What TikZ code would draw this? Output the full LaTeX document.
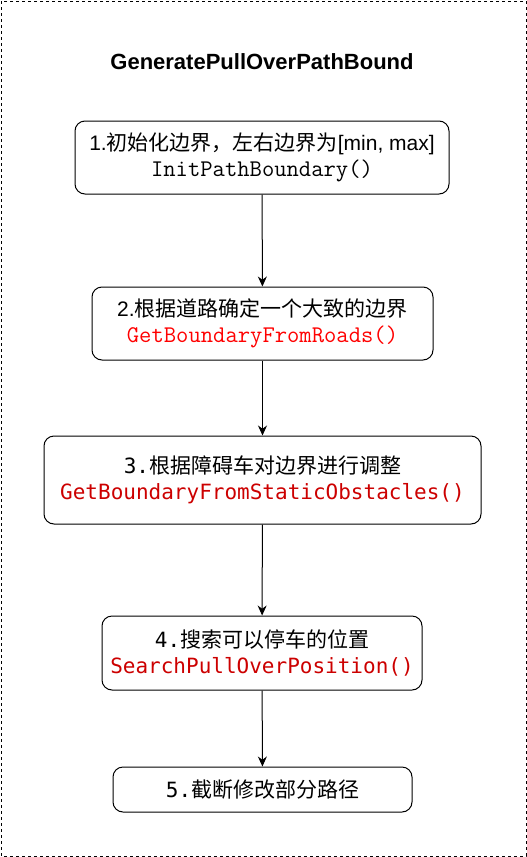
\documentclass[tikz,border=0pt]{standalone}
\usepackage{fontspec}
\setmainfont{Liberation Sans}
\setmonofont[Scale=1.14]{Latin Modern Mono}
\newfontfamily\zh{Noto Sans CJK SC}
\newfontfamily\menlo{DejaVu Sans Mono}
\usepackage{xcolor}
\definecolor{rojo}{RGB}{255,0,0}
\definecolor{rojoOscuro}{RGB}{204,0,0}
\usepackage{tikz}
\usetikzlibrary{arrows.meta,positioning}
\tikzstyle{edge}  =[-{Stealth[length=10pt,width=9pt]},
                    line width=1pt]
\tikzstyle{paso}  =[draw, rounded corners=10pt, line width=1pt,
                    inner sep=0pt, align=center,
                    font=\fontsize{21}{26}\selectfont]

\begin{document}
\begin{tikzpicture}[x=1pt,y=-1pt]

        \useasboundingbox (0,0) rectangle (527,857);
        \draw [dash pattern=on 3pt off 3pt, line width=1pt] (1,1) rectangle (526,856);

        \node (t) at (262,62) {\fontsize{22}{26}\selectfont\bfseries GeneratePullOverPathBound};

        \node (1)[paso, minimum width=374pt, minimum height=73pt] at (262,157.5)
            {1.{\zh 初始化边界，左右边界为}[min, max]\\
             {\ttfamily InitPathBoundary()}};
        \node (2)[paso, minimum width=341pt, minimum height=73pt] at (262.5,323.5)
            {2.{\zh 根据道路确定一个大致的边界}\\
             {\color{rojo}\ttfamily GetBoundaryFromRoads()}};
        \node (3)[paso, minimum width=437pt, minimum height=88pt] at (262.5,480)
            {{\menlo 3.}{\zh 根据障碍车对边界进行调整}\\
             {\color{rojoOscuro}\menlo GetBoundaryFromStaticObstacles()}};
        \node (4)[paso, minimum width=320pt, minimum height=74pt] at (262,653)
            {{\menlo 4.}{\zh 搜索可以停车的位置}\\
             {\color{rojoOscuro}\menlo SearchPullOverPosition()}};
        \node (5)[paso, minimum width=299pt, minimum height=45pt] at (262.5,789.5)
            {{\menlo 5.}{\zh 截断修改部分路径}};

        \foreach \i/\j in {1/2,2/3,3/4,4/5}
            \draw [edge] (\i) to (\j);

\end{tikzpicture}
\end{document}
